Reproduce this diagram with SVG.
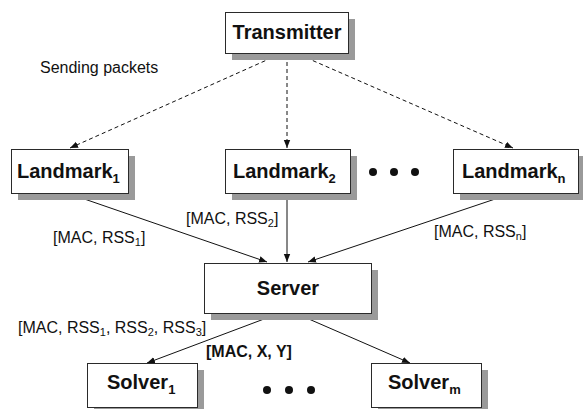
<svg xmlns="http://www.w3.org/2000/svg" width="583" height="409" viewBox="0 0 583 409">
<style>
.shadow{fill:#9a9a9a}
.box{fill:#fff;stroke:#2a2a2a;stroke-width:1}
.nt{font-family:"Liberation Sans",Arial,sans-serif;font-weight:bold;font-size:20px;fill:#111}
.sub{font-size:13px}
.lbl{font-family:"Liberation Sans",Arial,sans-serif;font-size:16px;fill:#111}
.lblb{font-family:"Liberation Sans",Arial,sans-serif;font-size:16px;font-weight:bold;fill:#111}
.lsub{font-size:11px}
.c{stroke:#111;stroke-width:1;fill:none}
.d{stroke-dasharray:4,3}
.dot{fill:#111}
</style>
<defs>
<marker id="ah" viewBox="0 0 10 10" refX="10" refY="5" markerWidth="8" markerHeight="8" markerUnits="userSpaceOnUse" orient="auto-start-reverse">
<path d="M0,1 L10,5 L0,9 z" fill="#111"/>
</marker>
</defs>
<rect width="583" height="409" fill="#fff"/>
<g id="connectors">
<line class="c d" x1="278" y1="55" x2="70" y2="148" marker-end="url(#ah)"/>
<line class="c d" x1="287" y1="55" x2="287" y2="148" marker-end="url(#ah)"/>
<line class="c d" x1="300" y1="55" x2="513" y2="148" marker-end="url(#ah)"/>
<line class="c" x1="67" y1="193" x2="267" y2="262" marker-end="url(#ah)"/>
<line class="c" x1="287" y1="193" x2="287" y2="262" marker-end="url(#ah)"/>
<line class="c" x1="513" y1="193" x2="308" y2="262" marker-end="url(#ah)"/>
<line class="c" x1="280" y1="313" x2="147" y2="363" marker-start="url(#ah)" marker-end="url(#ah)"/>
<line class="c" x1="295" y1="313" x2="410" y2="363" marker-start="url(#ah)" marker-end="url(#ah)"/>
</g>
<g id="transmitter">
<rect class="shadow" x="232" y="19" width="123" height="41"/>
<rect class="box" x="225.5" y="12.5" width="123" height="41"/>
<text class="nt" x="287" y="39" text-anchor="middle">Transmitter</text>
</g>
<g id="landmark1">
<rect class="shadow" x="18" y="156" width="117" height="44"/>
<rect class="box" x="11.5" y="149.5" width="117" height="44"/>
<text class="nt" x="17" y="178">Landmark<tspan class="sub" dy="5">1</tspan></text>
</g>
<g id="landmark2">
<rect class="shadow" x="232" y="156" width="125" height="44"/>
<rect class="box" x="225.5" y="149.5" width="125" height="44"/>
<text class="nt" x="233" y="178">Landmark<tspan class="sub" dy="5">2</tspan></text>
</g>
<g id="landmarkn">
<rect class="shadow" x="460" y="156" width="125" height="44"/>
<rect class="box" x="453.5" y="149.5" width="125" height="44"/>
<text class="nt" x="462" y="178">Landmark<tspan class="sub" dy="5">n</tspan></text>
</g>
<g id="dots-top">
<circle class="dot" cx="373" cy="172" r="4"/>
<circle class="dot" cx="394" cy="172" r="4"/>
<circle class="dot" cx="415" cy="172" r="4"/>
</g>
<g id="server">
<rect class="shadow" x="211" y="270" width="167" height="50"/>
<rect class="box" x="204.5" y="263.5" width="167" height="50"/>
<text class="nt" x="288" y="295" text-anchor="middle">Server</text>
</g>
<g id="solver1">
<rect class="shadow" x="94" y="370" width="110" height="44"/>
<rect class="box" x="87.5" y="363.5" width="110" height="44"/>
<text class="nt" x="107" y="389">Solver<tspan class="sub" dy="5">1</tspan></text>
</g>
<g id="solverm">
<rect class="shadow" x="378" y="370" width="110" height="44"/>
<rect class="box" x="371.5" y="363.5" width="110" height="44"/>
<text class="nt" x="388" y="389">Solver<tspan class="sub" dy="5">m</tspan></text>
</g>
<g id="dots-bottom">
<circle class="dot" cx="267" cy="390" r="4"/>
<circle class="dot" cx="289" cy="390" r="4"/>
<circle class="dot" cx="311" cy="390" r="4"/>
</g>
<g id="labels">
<text class="lbl" x="40" y="73">Sending packets</text>
<text class="lbl" x="53" y="243">[MAC, RSS<tspan class="lsub" dy="3">1</tspan><tspan dy="-3">]</tspan></text>
<text class="lbl" x="186" y="224">[MAC, RSS<tspan class="lsub" dy="3">2</tspan><tspan dy="-3">]</tspan></text>
<text class="lbl" x="434" y="237">[MAC, RSS<tspan class="lsub" dy="3">n</tspan><tspan dy="-3">]</tspan></text>
<text class="lbl" x="18" y="333">[MAC, RSS<tspan class="lsub" dy="3">1</tspan><tspan dy="-3">, RSS</tspan><tspan class="lsub" dy="3">2</tspan><tspan dy="-3">, RSS</tspan><tspan class="lsub" dy="3">3</tspan><tspan dy="-3">]</tspan></text>
<text class="lblb" x="206" y="357">[MAC, X, Y]</text>
</g>
</svg>
